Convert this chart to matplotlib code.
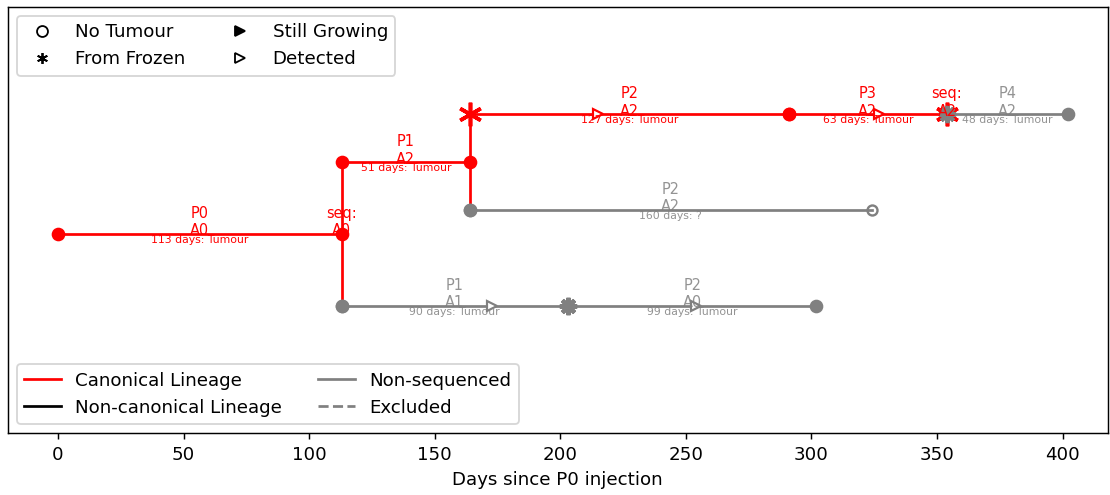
import matplotlib
matplotlib.use("Agg")
import matplotlib.pyplot as plt
from matplotlib.lines import Line2D

# Passages (one row per segment)
seg_label = ["P0\nA0", "P1\nA2", "P1\nA1", "P2\nA2", "P2\nA2", "P2\nA0", "P3\nA2", "P4\nA2"]
seg_start = [0, 113, 113, 164, 164, 203, 291, 354]
seg_end = [113, 164, 203, 291, 324, 302, 354, 402]
seg_level = [0, 1.5, -1.5, 2.5, 0.5, -1.5, 2.5, 2.5]
seg_outcome = ["Tumour", "Tumour", "Tumour", "Tumour", "?", "Tumour", "Tumour", "Tumour"]
seg_canonical = [True, True, False, True, False, False, True, False]
seg_detected = [None, None, 173, 215, None, 254, 327, None]
seg_start_kind = ["dot", "dot", "dot", "frozen", "dot", "frozen", "dot", "frozen"]
seg_end_kind = ["dot", "dot", "frozen", "dot", "none", "dot", "frozen", "dot"]

# links between lineages (x, from level, to level)
link_x = [113, 164]
link_lo = [-1.5, 0.5]
link_hi = [1.5, 2.5]

# sequenced points
seq_x = [113, 354]
seq_level = [0, 2.5]
seq_label = ["seq:\nA0", "seq:\nA2"]

FROZEN = (6, 2, 0)
DPI = 131


def draw_marker(ax, x, y, kind, color):
    if kind == "dot":
        ax.plot(x, y, "o", color=color, ms=6.5, zorder=4)
    elif kind == "frozen":
        if color == "red":
            ax.plot(x, y, marker=FROZEN, color=color, ms=13, mew=2, zorder=4)
        else:
            ax.plot(x, y, marker=(8, 2, 0), color=color, ms=9.5, mew=2.2, zorder=5)
    elif kind == "none":
        ax.plot(x, y, "o", color=color, mfc="none", ms=5.5, mew=1.3, zorder=4)


fig, ax = plt.subplots(figsize=(1110 / DPI, 495 / DPI), dpi=DPI)
fig.subplots_adjust(left=0.007, right=0.998, bottom=0.125, top=0.986)

for i in range(len(seg_label)):
    col = "red" if seg_canonical[i] else "grey"
    a = 1 if seg_canonical[i] else 0.85
    x0, x1, y = seg_start[i], seg_end[i], seg_level[i]
    ax.plot([x0, x1], [y, y], color=col, lw=1.5, zorder=2)
    draw_marker(ax, x0, y, seg_start_kind[i], col)
    draw_marker(ax, x1, y, seg_end_kind[i], col)
    if seg_detected[i] is not None:
        ax.plot(seg_detected[i], y, ">", color=col, mfc="white", ms=6, mew=1.2, zorder=3)
    mid = (x0 + x1) / 2
    ax.annotate(seg_label[i], (mid, y), xytext=(0, -2.5), textcoords="offset points",
                ha="center", va="bottom", fontsize=8, color=col, alpha=a, zorder=6)
    ax.annotate(f"{x1 - x0} days: {seg_outcome[i]}", (mid, y), xytext=(0, -0.5),
                textcoords="offset points", ha="center", va="top", fontsize=6,
                color=col, alpha=a, zorder=6)

for x, lo, hi in zip(link_x, link_lo, link_hi):
    ax.plot([x, x], [lo, hi], color="red", lw=1.5, zorder=3)

# redraw start markers over the links
ax.plot(113, -1.5, "o", color="grey", ms=6.5, zorder=4)
ax.plot(164, 0.5, "o", color="grey", ms=6.5, zorder=4)

for x, y, t in zip(seq_x, seq_level, seq_label):
    ax.annotate(t, (x, y), xytext=(0, -2.5), textcoords="offset points", ha="center",
                va="bottom", fontsize=8, color="red", zorder=6)

ax.set_xlim(-20, 418)
ax.set_ylim(-4.15, 4.73)
ax.set_yticks([])
ax.set_xlabel("Days since P0 injection")

marker_handles = [
    Line2D([], [], ls="none", marker="o", color="black", mfc="none", label="No Tumour"),
    Line2D([], [], ls="none", marker=FROZEN, color="black", label="From Frozen"),
    Line2D([], [], ls="none", marker=">", color="black", label="Still Growing"),
    Line2D([], [], ls="none", marker=">", color="black", mfc="none", label="Detected"),
]
leg1 = ax.legend(handles=marker_handles, loc="upper left", ncol=2)
ax.add_artist(leg1)

line_handles = [
    Line2D([], [], color="red", label="Canonical Lineage"),
    Line2D([], [], color="black", label="Non-canonical Lineage"),
    Line2D([], [], color="grey", label="Non-sequenced"),
    Line2D([], [], color="grey", ls="--", label="Excluded"),
]
ax.legend(handles=line_handles, loc="lower left", ncol=2)

fig.savefig("out.png", dpi=DPI)
